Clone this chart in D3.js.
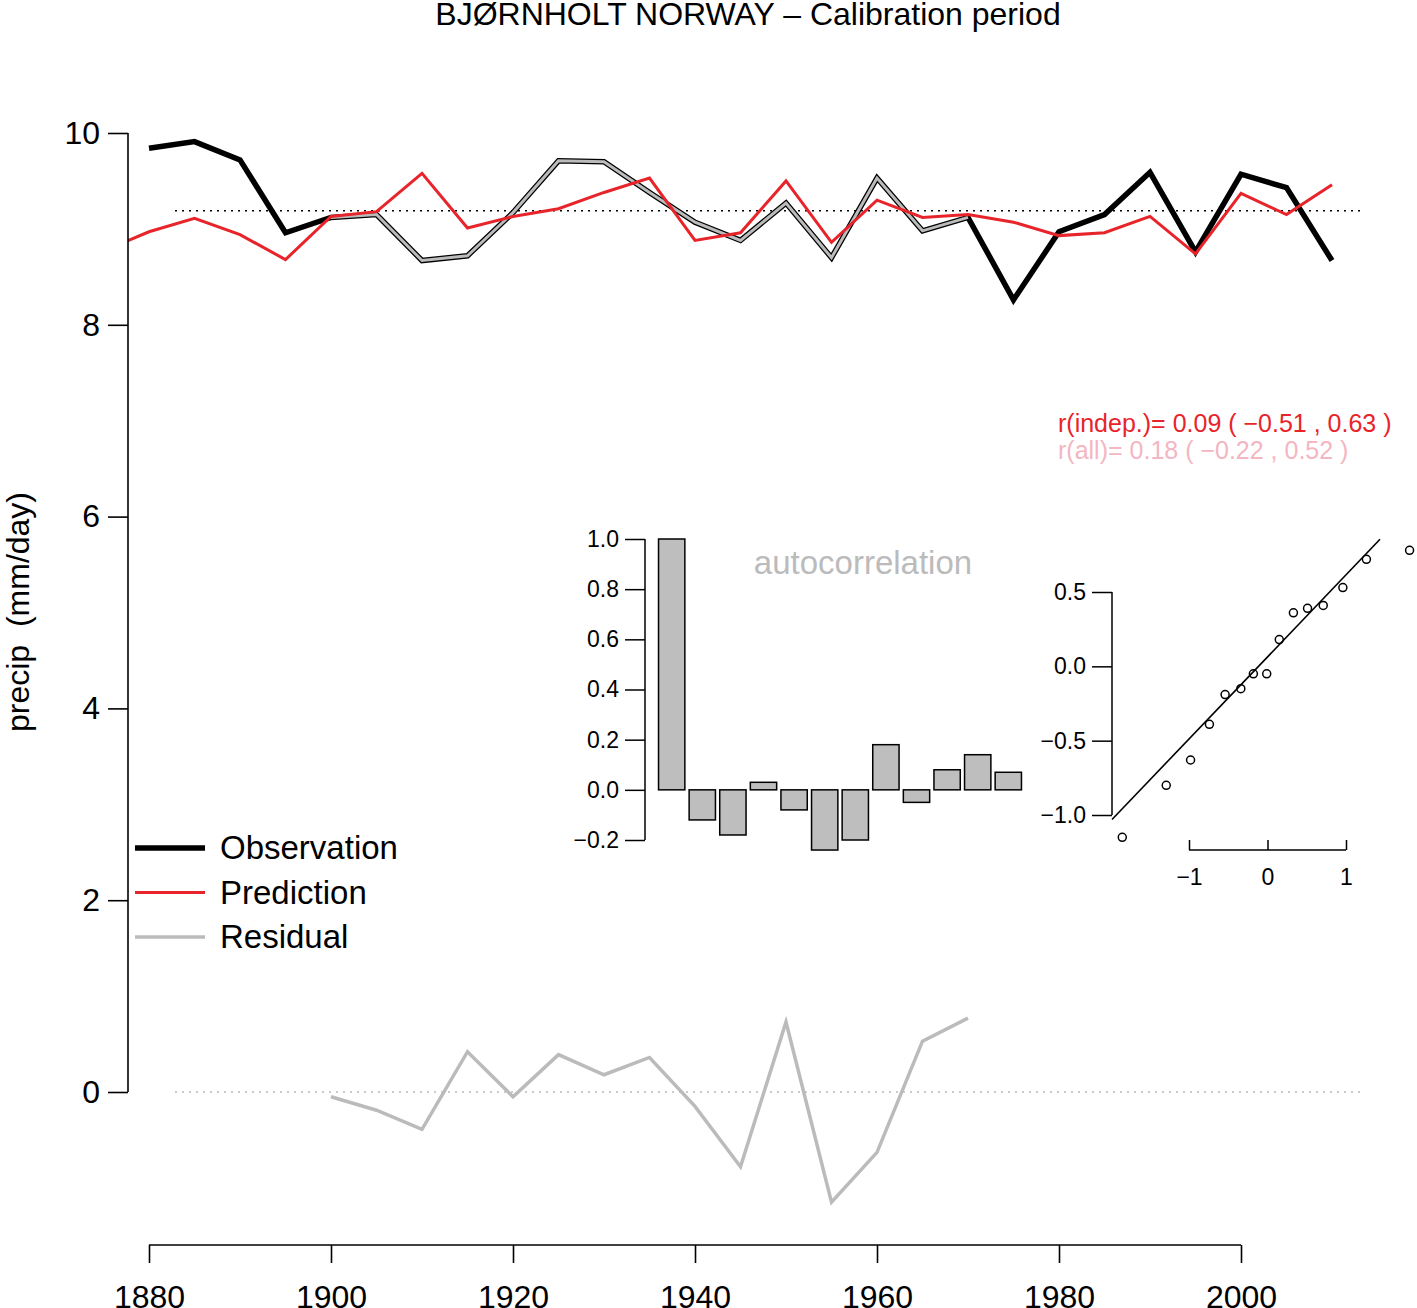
<!DOCTYPE html>
<html><head><meta charset="utf-8">
<script src="https://cdn.jsdelivr.net/npm/d3@7"></script>
<style>body{margin:0;background:#fff}text{font-family:"Liberation Sans",Arial,sans-serif}</style>
</head><body><svg id="c" width="1417" height="1308"></svg>
<script>
const years=d3.range(1880,2011,5);
const obs=[9.84,9.91,9.72,8.96,9.12,9.15,8.67,8.72,9.17,9.71,9.70,9.38,9.07,8.88,9.27,8.70,9.53,8.98,9.12,8.26,8.97,9.15,9.59,8.76,9.57,9.43,8.67];
const predYears=[1875].concat(years);
const pred=[8.77,8.97,9.11,8.94,8.68,9.13,9.18,9.58,9.01,9.13,9.21,9.38,9.53,8.88,8.96,9.50,8.86,9.30,9.12,9.15,9.07,8.93,8.96,9.13,8.74,9.37,9.15,9.46];
const calYears=d3.range(1900,1971,5);
const resid=[-0.05,-0.19,-0.39,0.42,-0.05,0.39,0.18,0.36,-0.15,-0.78,0.73,-1.15,-0.63,0.53,0.77];
const meanObs=9.19;
const acf=[1.0,-0.12,-0.18,0.03,-0.08,-0.24,-0.20,0.18,-0.05,0.08,0.14,0.07];
const qqX=[-1.85,-1.29,-0.98,-0.74,-0.54,-0.34,-0.18,-0.01,0.15,0.33,0.51,0.71,0.96,1.26,1.81];
const qqY=[-1.15,-0.80,-0.63,-0.39,-0.19,-0.15,-0.05,-0.05,0.18,0.36,0.39,0.41,0.53,0.72,0.78];
const yTicks=[0,2,4,6,8,10], xTicks=[1880,1900,1920,1940,1960,1980,2000];

const svg=d3.select("#c");
const x=d3.scaleLinear().domain([1880,2000]).range([149,1241]);
const y=d3.scaleLinear().domain([0,10]).range([1092,133]);
const defs=svg.append("defs");
defs.append("clipPath").attr("id","cp").append("rect").attr("x",128).attr("y",0).attr("width",1300).attr("height",1300);
const g=svg.append("g").attr("clip-path","url(#cp)");
const line=(xs)=>d3.line().x((d,i)=>x(xs[i])).y(d=>y(d));
g.append("line").attr("x1",175).attr("x2",1362).attr("y1",y(meanObs)).attr("y2",y(meanObs)).attr("stroke","#000").attr("stroke-width",1.5).attr("stroke-dasharray","2,5");
g.append("line").attr("x1",175).attr("x2",1362).attr("y1",y(0)).attr("y2",y(0)).attr("stroke","#bbb").attr("stroke-width",1.5).attr("stroke-dasharray","2,5");
g.append("path").attr("d",line(years)(obs)).attr("fill","none").attr("stroke","#000").attr("stroke-width",5.5);
const ci=years.indexOf(1900), ce=years.indexOf(1970);
const calObs=obs.slice(ci,ce+1);
g.append("path").attr("d",line(calYears)(calObs)).attr("fill","none").attr("stroke","#bbb").attr("stroke-width",3);
g.append("path").attr("d",line(predYears)(pred)).attr("fill","none").attr("stroke","#e8242b").attr("stroke-width",3);
g.append("path").attr("d",line(calYears)(resid)).attr("fill","none").attr("stroke","#bbb").attr("stroke-width",3.5);
const ya=svg.append("g").attr("transform","translate(128,0)").call(d3.axisLeft(y).tickValues(yTicks).tickSize(20).tickPadding(8).tickFormat(d3.format("d")));
ya.selectAll("text").attr("font-size",32).attr("fill","#000");
const xa=svg.append("g").attr("transform","translate(0,1245)").call(d3.axisBottom(x).tickValues(xTicks).tickSize(18).tickPadding(22).tickFormat(d3.format("d")));
xa.selectAll("text").attr("font-size",32).attr("fill","#000");
[ya,xa].forEach(a=>{a.selectAll("path,line").attr("stroke","#000").attr("stroke-width",1.6);a.select(".domain").attr("d",a===ya?"M0,"+y(10)+"V"+y(0):"M"+x(1880)+",0H"+x(2000));});
svg.append("text").attr("x",748).attr("y",25).attr("text-anchor","middle").attr("font-size",32).text("BJØRNHOLT NORWAY – Calibration period");
svg.append("text").attr("transform","translate(29,612) rotate(-90)").attr("text-anchor","middle").attr("font-size",32).style("white-space","pre").text("precip  (mm/day)");
svg.append("text").attr("x",1058).attr("y",432).attr("font-size",25).attr("fill","#e8242b").text("r(indep.)= 0.09 ( −0.51 , 0.63 )");
svg.append("text").attr("x",1058).attr("y",459).attr("font-size",25).attr("fill","#f4b6c2").text("r(all)= 0.18 ( −0.22 , 0.52 )");
const leg=[["Observation","#000",5.5],["Prediction","#e8242b",3],["Residual","#bbb",3.5]];
leg.forEach((l,i)=>{const yy=848+i*44.5;
 svg.append("line").attr("x1",135).attr("x2",205).attr("y1",yy).attr("y2",yy).attr("stroke",l[1]).attr("stroke-width",l[2]);
 svg.append("text").attr("x",220).attr("y",yy+11).attr("font-size",33).text(l[0]);});
const ay=d3.scaleLinear().domain([-0.2,1.0]).range([840,539]);
const ax=d3.scaleBand().domain(d3.range(acf.length)).range([657,1023]).paddingInner(0.14).paddingOuter(0.05);
svg.selectAll(".acf").data(acf).enter().append("rect").attr("x",(d,i)=>ax(i)).attr("width",ax.bandwidth())
 .attr("y",d=>ay(Math.max(0,d))).attr("height",d=>Math.abs(ay(d)-ay(0))).attr("fill","#bebebe").attr("stroke","#000").attr("stroke-width",1.5);
const aa=svg.append("g").attr("transform","translate(645,0)").call(d3.axisLeft(ay).tickValues([-0.2,0,0.2,0.4,0.6,0.8,1.0]).tickSize(20).tickPadding(6).tickFormat(d=>d3.format(".1f")(d).replace("-","−")));
aa.selectAll("text").attr("font-size",23).attr("fill","#000");
aa.selectAll("path,line").attr("stroke","#000").attr("stroke-width",1.5);aa.select(".domain").attr("d","M0,539V840");
svg.append("text").attr("x",863).attr("y",574).attr("text-anchor","middle").attr("font-size",33).attr("fill","#bbb").text("autocorrelation");
const qx=d3.scaleLinear().domain([-1,1]).range([1189,1346]);
const qy=d3.scaleLinear().domain([-1,0.5]).range([815,592]);
const qa1=svg.append("g").attr("transform","translate(1112,0)").call(d3.axisLeft(qy).tickValues([-1,-0.5,0,0.5]).tickSize(20).tickPadding(6).tickFormat(d=>d3.format(".1f")(d).replace("-","−")));
const qa2=svg.append("g").attr("transform","translate(0,850)").call(d3.axisBottom(qx).tickValues([-1,0,1]).tickSize(-10).tickPadding(14).tickFormat(d=>String(d).replace("-","−")));
qa2.selectAll("line").attr("y2",0).attr("y1",-10);
qa2.select(".domain").attr("d","M1189,0H1346");
qa1.select(".domain").attr("d","M0,592V815");
[qa1,qa2].forEach(a=>{a.selectAll("text").attr("font-size",23).attr("fill","#000");a.selectAll("path,line").attr("stroke","#000").attr("stroke-width",1.5);});
qa2.selectAll("text").attr("dy","0.9em");
const sx=qqX.slice().sort(d3.ascending), sy=qqY.slice().sort(d3.ascending);
const x1=d3.quantile(sx,0.25),x2=d3.quantile(sx,0.75),y1=d3.quantile(sy,0.25),y2=d3.quantile(sy,0.75);
const sl=(y2-y1)/(x2-x1), ic=y1-sl*x1;
const xa0=qx.invert(1112), xa1=qx.invert(1380);
svg.append("line").attr("x1",qx(xa0)).attr("y1",qy(ic+sl*xa0)).attr("x2",qx(xa1)).attr("y2",qy(ic+sl*xa1)).attr("stroke","#000").attr("stroke-width",1.6);
svg.selectAll(".qq").data(qqX).enter().append("circle").attr("cx",d=>qx(d)).attr("cy",(d,i)=>qy(qqY[i])).attr("r",4).attr("fill","none").attr("stroke","#000").attr("stroke-width",1.5);
</script></body></html>
